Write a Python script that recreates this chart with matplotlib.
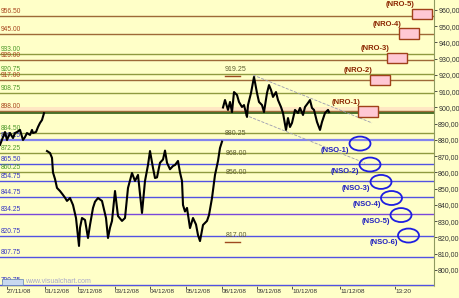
import matplotlib
matplotlib.use("Agg")
import matplotlib.pyplot as plt
import numpy as np
from matplotlib.patches import Ellipse, Rectangle

# price bars (x = bar index), one list per block of sessions
x_a = [0, 3, 5, 7, 10, 13, 15, 17, 20, 23, 25, 27, 30, 32, 33, 36, 38, 40, 42, 44]
p_a = [877, 881.8, 884.9, 880, 884.3, 881.2, 884.3, 884.9, 886.2, 880, 881.8, 884.3,
       883.1, 886.2, 884.3, 884.9, 888, 890.5, 892.3, 896.5]

x_b = [47, 50, 52, 53, 55, 57, 60, 63, 65, 67, 70, 73, 76, 79, 80, 82, 85, 88, 90, 93,
       95, 98, 102, 106, 108, 110, 112, 115, 118, 122, 125, 128, 132, 135, 138, 142, 145,
       148, 150, 153, 155, 157, 160, 163, 165, 167, 170, 173, 175, 178, 180, 182, 183,
       185, 187, 190, 193, 196, 198, 200, 203, 207, 209, 212, 215, 218, 220, 222]
p_b = [873.2, 872, 869, 860, 856, 850.5, 848.6, 846.2, 844.5, 842.5, 844.3, 840, 832,
       814.8, 826, 832, 830.8, 819.7, 827.7, 838.2, 842, 844.3, 842.5, 832, 819.7, 826,
       830.2, 848.6, 833.2, 830.2, 832, 850.5, 859.7, 854.8, 858.5, 835.1, 854.8, 864.6,
       873.2, 862.8, 856.6, 857, 866, 868, 873.5, 866, 862, 864, 864.6, 867.1, 860, 854.8,
       840, 836, 838.2, 825.8, 832, 828, 821.5, 817.8, 827.7, 830.2, 833.8, 844.3, 858.5,
       867.1, 875.1, 879]

x_c = [223, 225, 228, 230, 232, 234, 237, 239, 242, 244, 247, 248, 251, 254, 257, 259,
       262, 264, 267, 269, 271, 273, 276, 278, 281, 283, 286, 288, 290, 292, 295, 298,
       300, 303, 305, 308, 310, 312, 314, 317, 320, 322, 325, 328, 329]
p_c = [900, 904.6, 898.5, 903.4, 897.2, 909.5, 907.7, 903.4, 900.3, 901.5, 894.2, 901.5,
       908.9, 918.8, 908.9, 903.4, 901.5, 897.2, 908.9, 913.8, 910.8, 906.5, 909.5, 904.6,
       900.3, 896.6, 886.2, 893.5, 888, 890.5, 898.5, 896.6, 899.7, 895.4, 900.3, 902.8,
       904.6, 899.7, 898.5, 891.1, 886.2, 891.1, 896.6, 898.5, 897.2]

# horizontal levels: value and kind (r = resistance, g = green, s = support)
levels = [956.50, 945.00, 933.00, 929.00, 920.75, 917.00, 908.75, 898.00, 884.50,
          880.25, 872.25, 865.50, 860.25, 854.75, 844.75, 834.25, 820.75, 807.75, 790.75]
level_kind = ['r', 'r', 'g', 'r', 'g', 'r', 'g', 'r', 'g',
              'p', 'g', 's', 'g', 's', 's', 'm', 's', 's', 's']
close_level = 896.5

# targets
nro_names = ['(NRO-1)', '(NRO-2)', '(NRO-3)', '(NRO-4)', '(NRO-5)']
nro_x = [368, 380.5, 397, 409.5, 422.5]
nro_price = [897.5, 916.9, 930.5, 945.5, 957.5]
nso_names = ['(NSO-1)', '(NSO-2)', '(NSO-3)', '(NSO-4)', '(NSO-5)', '(NSO-6)']
nso_x = [360, 370, 381, 391.5, 401, 408.5]
nso_price = [877.8, 864.9, 854.2, 844.3, 833.8, 821.2]

# marked prices inside the chart
mark_text = ['919.25', '880.25', '868.00', '856.00', '817.00']
mark_price = [919.25, 880.25, 868.00, 856.00, 817.00]

# channel lines (x, price)
chan_up = ([253, 372], [920.0, 890.5])
chan_dn = ([245, 365], [895.4, 865.8])

day_ticks = [7, 45, 78, 115, 150, 186, 222, 257, 292, 340, 395]
day_labels = ['27/11/08', '01/12/08', '02/12/08', '03/12/08', '04/12/08', '05/12/08',
              '08/12/08', '09/12/08', '10/12/08', '11/12/08', '13:20']

bg = '#FFFFC8'
kind_line = {'r': '#9E6A38', 'g': '#8F9A40', 's': '#5252E2', 'p': '#8484EE', 'm': '#7A48DA'}
kind_text = {'r': '#A8461E', 'g': '#4E9A2A', 's': '#3434C4', 'p': '#3434C4', 'm': '#3434C4'}

fig = plt.figure(figsize=(4.6, 2.98), dpi=100, facecolor=bg)
ax = fig.add_axes([0, 12 / 298, 434 / 460, 286 / 298], facecolor=bg)
ax.set_xlim(0, 434)
ax.set_ylim(790.15, 966.15)

# faint band around the NRO-1 zone
ax.axhspan(897.2, 900.2, color='#FFD8C0', alpha=0.6, lw=0, zorder=0)

for v, k in zip(levels, level_kind):
    lw = 1.6 if k == 'p' else 1.0
    ax.axhline(v, color=kind_line[k], lw=lw, zorder=1)
    ax.text(1, v + 0.6, '%.2f' % v, color=kind_text[k], fontsize=4.8, ha='left',
            va='bottom', family='Liberation Sans', zorder=3)
ax.axhline(close_level, color='#2E5A10', lw=1.2, zorder=1)

# price
for xs, ps in [(x_a, p_a), (x_b, p_b), (x_c, p_c)]:
    ax.plot(xs, ps, color='black', lw=1.5, zorder=4)

# channel
ax.plot(*chan_up, color='#9A9AB0', lw=0.6, ls='--', zorder=2)
ax.plot(*chan_dn, color='#9A9AB0', lw=0.6, ls='--', zorder=2)

# marked prices
for t, v in zip(mark_text, mark_price):
    ax.text(236, v + 1.8, t, color='#5E5E30', fontsize=5, ha='center', va='bottom',
            family='Liberation Sans', zorder=5)
for v in [919.25, 817.00]:
    ax.plot([225, 240], [v, v], color='#9E4A20', lw=1.0, zorder=5)

# resistance boxes
for name, bx, bp in zip(nro_names, nro_x, nro_price):
    ax.add_patch(Rectangle((bx - 10, bp - 3.3), 20, 6.6, facecolor='#FFC8D4',
                           edgecolor='#A0401A', lw=1.0, zorder=6))
    ax.text(bx - 22, bp + 5.8, name, color='#8B2500', fontsize=5.5, fontweight='bold',
            ha='center', va='center', family='Liberation Sans', zorder=6)

# support ellipses
for name, ex, ep in zip(nso_names, nso_x, nso_price):
    ax.add_patch(Ellipse((ex, ep), 21, 8.6, facecolor='none', edgecolor='#1E1EE0',
                         lw=1.3, zorder=6))
    ax.text(ex - 25, ep - 4.2, name, color='#2020C0', fontsize=5.5, fontweight='bold',
            ha='center', va='center', family='Liberation Sans', zorder=6)

# watermark
ax.add_patch(Rectangle((2, 791.0), 21, 3.2, facecolor='#C8D8F0', edgecolor='#6080B0',
                       lw=0.5, zorder=7))
ax.text(25, 792.8, 'www.visualchart.com', fontsize=5, color='#A8A8C8', va='center',
        family='Liberation Sans', zorder=7)

# axes
ax.yaxis.tick_right()
yt = np.arange(800, 961, 10)
ax.set_yticks(yt)
ax.set_yticklabels([('%.2f' % v).replace('.', ',') for v in yt])
ax.tick_params(axis='y', labelsize=5, colors='#333333', length=2, pad=1, width=0.6)
ax.set_xticks(day_ticks)
ax.set_xticklabels(day_labels)
for lab in ax.get_xticklabels():
    lab.set_horizontalalignment('left')
ax.tick_params(axis='x', labelsize=4.6, colors='#333333', length=2, pad=0.5, width=0.6)
for lab in ax.get_xticklabels() + ax.get_yticklabels():
    lab.set_family('Liberation Sans')
    lab.set_color('#333333')
for s in ['top', 'left']:
    ax.spines[s].set_visible(False)
ax.spines['right'].set_color('#8F9A60')
ax.spines['right'].set_linewidth(0.8)
ax.spines['bottom'].set_color('#C8C8A0')
ax.spines['bottom'].set_linewidth(0.5)

fig.savefig('out.png', dpi=100, facecolor=bg)
